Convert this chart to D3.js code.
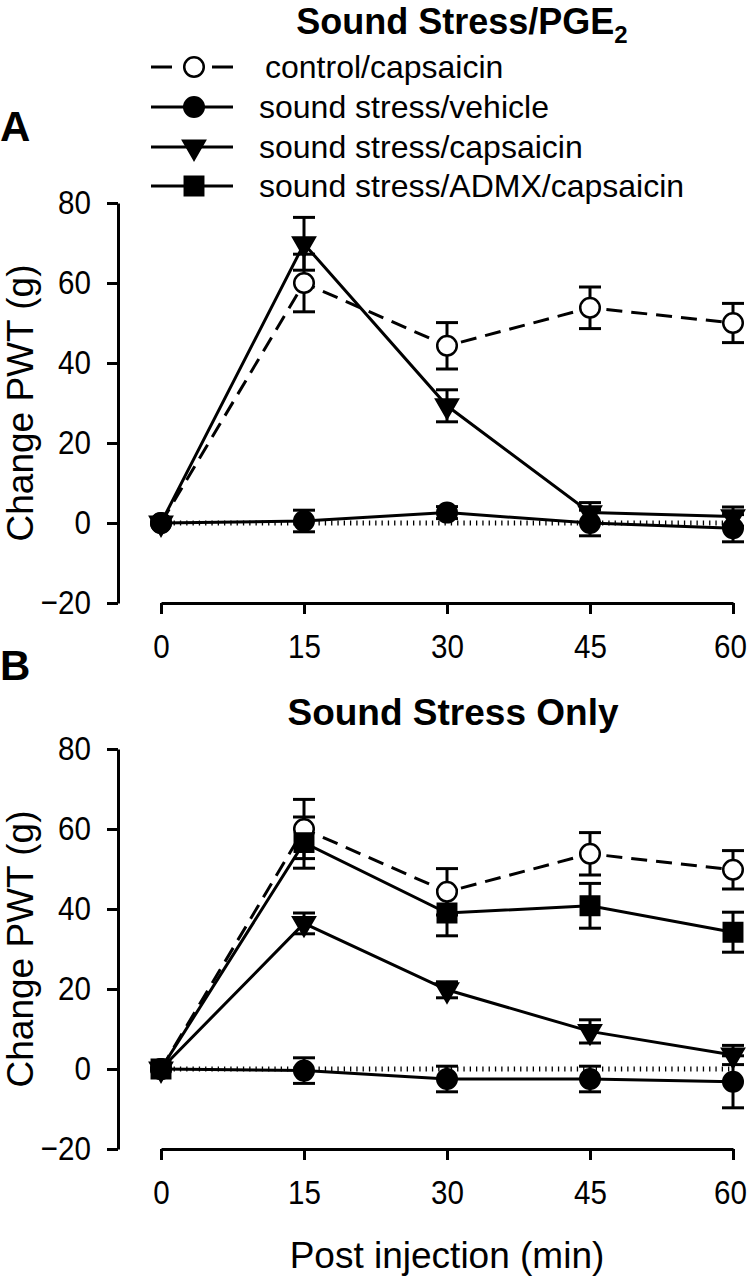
<!DOCTYPE html>
<html><head><meta charset="utf-8">
<script src="https://cdn.jsdelivr.net/npm/d3@7/dist/d3.min.js"></script>
<style>
body{margin:0;background:#fff;}
svg{display:block;}
text{font-family:"Liberation Sans",Arial,sans-serif;fill:#000;}
</style></head>
<body>
<svg id="chart" width="748" height="1280"></svg>
<script>
// ---- data ----
const timePoints = [0, 15, 30, 45, 60];
const yTicks = [-20, 0, 20, 40, 60, 80];
const seriesNames = ["control/capsaicin", "sound stress/vehicle", "sound stress/capsaicin", "sound stress/ADMX/capsaicin"];
const panelTitles = ["Sound Stress/PGE", "Sound Stress Only"];
const panelLetters = ["A", "B"];

// Panel A
const ctrlA = [0, 60, 44.3, 53.8, 50];
const ctrlA_se = [0, 7.2, 5.8, 5.2, 4.9];
const vehA = [0, 0.5, 2.6, 0, -1.3];
const vehA_se = [0, 2.7, 1.5, 3.2, 3.4];
const capA = [0, 69.8, 29.3, 2.6, 1.6];
const capA_se = [0, 6.6, 4.0, 2.5, 2.4];

// Panel B
const ctrlB = [0, 60, 44.3, 53.8, 49.8];
const ctrlB_se = [0, 7.4, 5.8, 5.3, 4.8];
const vehB = [0, -0.4, -2.5, -2.5, -3.2];
const vehB_se = [0, 3.2, 3.2, 3.2, 6.5];
const capB = [0, 36.4, 19.8, 9.4, 3.5];
const capB_se = [0, 2.6, 2.0, 2.9, 2.4];
const admxB = [0, 56.6, 39, 40.8, 34.2];
const admxB_se = [0, 6.4, 5.7, 5.6, 5.0];

// ---- styles per series ----
const styles = {
  ctrl: {dash: "16,9", symbol: d3.symbolCircle, fill: "#fff", size: 300, rot: 0},
  veh:  {dash: null, symbol: d3.symbolCircle, fill: "#000", size: 300, rot: 0},
  cap:  {dash: null, symbol: d3.symbolTriangle, fill: "#000", size: 200, rot: 180},
  admx: {dash: null, symbol: d3.symbolSquare, fill: "#000", size: 340, rot: 0}
};

const svg = d3.select("#chart");
const font = "Liberation Sans, Arial, sans-serif";
const sx = 0.87; // condensed tick labels

const x = d3.scaleLinear().domain([0, 60]).range([161, 733]);

function drawPanel(top, series) {
  const y = d3.scaleLinear().domain([-20, 80]).range([top + 400, top]);
  const g = svg.append("g");

  // axes
  const ya = g.append("g").attr("transform", "translate(118,0)")
    .call(d3.axisLeft(y).tickValues(yTicks).tickSize(11).tickSizeOuter(0).tickPadding(16));
  const xa = g.append("g").attr("transform", `translate(0,${top + 400})`)
    .call(d3.axisBottom(x).tickValues(timePoints).tickSize(11).tickSizeOuter(0).tickPadding(20));
  [ya, xa].forEach(a => {
    a.selectAll("path,line").attr("stroke", "#000").attr("stroke-width", 3);
    a.selectAll("text").attr("font-size", 34).attr("font-family", font).attr("fill", "#000");
  });
  ya.selectAll("text").attr("x", -27 / sx).attr("transform", `scale(${sx},1)`);
  xa.selectAll("text").attr("transform", (d) => `translate(${d === 60 ? -3 : 0},0) scale(${sx},1)`);

  // zero reference dotted line
  g.append("line").attr("x1", x(0)).attr("x2", x(60)).attr("y1", y(0)).attr("y2", y(0))
    .attr("stroke", "#000").attr("stroke-width", 5).attr("stroke-dasharray", "1.3,5");

  const line = d3.line().x((d, i) => x(timePoints[i])).y(d => y(d));

  series.forEach(s => {
    const st = styles[s.key];
    g.append("path").attr("d", line(s.vals)).attr("fill", "none")
      .attr("stroke", "#000").attr("stroke-width", 3)
      .attr("stroke-dasharray", st.dash);
  });
  series.forEach(s => {
    const eb = g.append("g");
    s.vals.forEach((v, i) => {
      if (s.se[i] <= 0) return;
      const cx = x(timePoints[i]);
      const y1 = y(v + s.se[i]), y2 = y(v - s.se[i]);
      eb.append("line").attr("x1", cx).attr("x2", cx).attr("y1", y1).attr("y2", y2)
        .attr("stroke", "#000").attr("stroke-width", 3);
      [y1, y2].forEach(yy => eb.append("line").attr("x1", cx - 11).attr("x2", cx + 11)
        .attr("y1", yy).attr("y2", yy).attr("stroke", "#000").attr("stroke-width", 3));
    });
  });
  series.forEach(s => {
    const st = styles[s.key];
    const sym = d3.symbol().type(st.symbol).size(st.size);
    g.selectAll(null).data(s.vals).join("path")
      .attr("d", sym)
      .attr("transform", (d, i) => `translate(${x(timePoints[i])},${y(d)}) rotate(${st.rot})`)
      .attr("fill", st.fill).attr("stroke", "#000").attr("stroke-width", 2.5);
  });

  // y title
  g.append("text").attr("transform", `translate(33,${y(30)}) rotate(-90)`)
    .attr("text-anchor", "middle").attr("font-size", 37).text("Change PWT (g)");
}

drawPanel(203, [
  {key: "ctrl", vals: ctrlA, se: ctrlA_se},
  {key: "veh", vals: vehA, se: vehA_se},
  {key: "cap", vals: capA, se: capA_se}
]);
drawPanel(749, [
  {key: "ctrl", vals: ctrlB, se: ctrlB_se},
  {key: "admx", vals: admxB, se: admxB_se},
  {key: "cap", vals: capB, se: capB_se},
  {key: "veh", vals: vehB, se: vehB_se}
]);

// Titles
const tA = svg.append("text").attr("x", 462).attr("y", 34).attr("text-anchor", "middle")
  .attr("font-size", 36).attr("font-weight", "bold").text(panelTitles[0]);
tA.append("tspan").attr("font-size", 24).attr("dy", 9).text("2");
svg.append("text").attr("x", 453).attr("y", 725).attr("text-anchor", "middle")
  .attr("font-size", 37).attr("font-weight", "bold").text(panelTitles[1]);

// Panel letters
svg.append("text").attr("x", 0).attr("y", 141).attr("font-size", 42).attr("font-weight", "bold").text(panelLetters[0]);
svg.append("text").attr("x", 0).attr("y", 680).attr("font-size", 42).attr("font-weight", "bold").text(panelLetters[1]);

// x title
svg.append("text").attr("x", 447).attr("y", 1268).attr("text-anchor", "middle")
  .attr("font-size", 37).text("Post injection (min)");

// Legend
const legKeys = ["ctrl", "veh", "cap", "admx"];
const legY = [67, 107, 147, 186];
legKeys.forEach((k, i) => {
  const st = styles[k];
  const lg = svg.append("g").attr("transform", `translate(0,${legY[i]})`);
  lg.append("line").attr("x1", 151).attr("x2", 233).attr("y1", 0).attr("y2", 0)
    .attr("stroke", "#000").attr("stroke-width", 3)
    .attr("stroke-dasharray", k === "ctrl" ? "21,40" : null);
  lg.append("path").attr("d", d3.symbol().type(st.symbol).size(st.size)())
    .attr("transform", `translate(194,0) rotate(${st.rot})`)
    .attr("fill", st.fill).attr("stroke", "#000").attr("stroke-width", 2.5);
  lg.append("text").attr("x", k === "ctrl" ? 265 : 259).attr("y", 0).attr("dy", "0.35em")
    .attr("font-size", 32).text(seriesNames[i]);
});
</script>
</body></html>
